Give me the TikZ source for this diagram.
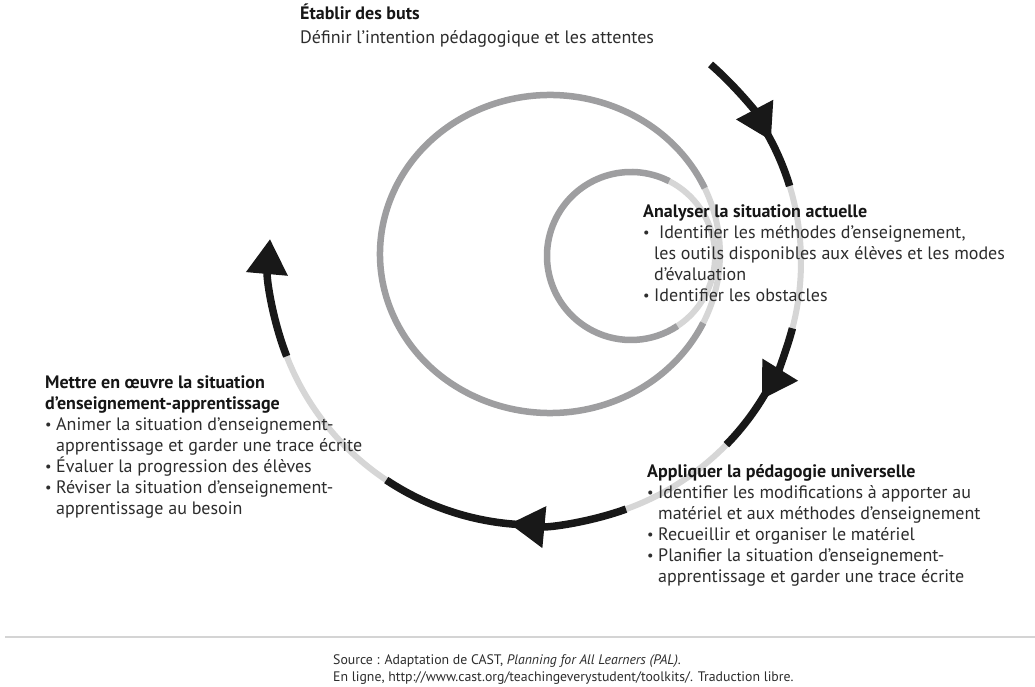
\documentclass[tikz,border=0pt]{standalone}
\usepackage{fontspec}
\setmainfont{PT Sans}
\usetikzlibrary{arrows.meta}

\definecolor{ringdark}{RGB}{158,158,160}
\definecolor{ringlight}{RGB}{214,214,214}
\definecolor{flowblack}{RGB}{24,24,24}
\definecolor{bodytext}{RGB}{45,45,45}
\definecolor{headtext}{RGB}{22,22,22}
\definecolor{rulegray}{RGB}{212,212,212}

% bullet and hanging indent for the step lists
\newcommand{\bul}{\makebox[11pt][l]{\raisebox{1pt}{\scalebox{0.8}{•}}}}
\newcommand{\hang}{\hspace*{11pt}}
\newcommand{\head}[1]{{\bfseries\color{headtext}#1}}
\newcommand{\stepbox}[1]{\parbox[t]{500pt}{\raggedright\leavevmode #1}}

\tikzset{
  darkring/.style={draw=ringdark, line width=6.5pt},
  lightring/.style={draw=ringlight, line width=6pt},
  flow/.style={draw=flowblack, line width=7.5pt},
  flowhead/.style={flow, -{Triangle[length=35pt,width=40pt]}},
  block/.style={anchor=base west, inner sep=0pt, text=bodytext,
                font=\fontsize{18}{21}\selectfont},
  credit/.style={anchor=base west, inner sep=0pt, text=bodytext,
                font=\fontsize{13.8}{17}\selectfont},
}

\begin{document}
\begin{tikzpicture}[x=1pt,y=1pt]
\useasboundingbox (0,0) rectangle (1035,686);
\fill[white] (0,0) rectangle (1035,686);

% centres of the three turns of the spiral
\coordinate (oc) at (535,424);
\coordinate (mc) at (550,432);
\coordinate (ic) at (631,430);

% inner turn
\draw[lightring] ([shift={(ic)}]-60:84) arc[start angle=-60, end angle=66, radius=84];
\draw[darkring]  ([shift={(ic)}]63:84) arc[start angle=63, end angle=303.5, radius=84];

% middle turn
\draw[lightring] ([shift={(mc)}]-30:170 and 159) arc[start angle=-30, end angle=28, x radius=170, y radius=159];
\draw[darkring]  ([shift={(mc)}]24.5:170 and 159) arc[start angle=24.5, end angle=334.3, x radius=170, y radius=159];

% outer turn: light gaps
\draw[lightring] ([shift={(oc)}]16.8:266 and 263) arc[start angle=16.8, end angle=-14.6, x radius=266, y radius=263];
\draw[lightring] ([shift={(oc)}]-44:266 and 263) arc[start angle=-44, end angle=-70, x radius=266, y radius=263];
\draw[lightring] ([shift={(oc)}]-124:266 and 263) arc[start angle=-124, end angle=-159, x radius=266, y radius=263];

% outer turn: black arrows
\draw[flow] ([shift={(oc)}]33:266 and 263) arc[start angle=33, end angle=16.8, x radius=266, y radius=263];
\draw[flowhead] ([shift={(oc)}]48.7:266 and 263) arc[start angle=48.7, end angle=27.5, x radius=266, y radius=263];

\draw[flow] ([shift={(oc)}]-24:266 and 263) arc[start angle=-24, end angle=-44, x radius=266, y radius=263];
\draw[flowhead] ([shift={(oc)}]-14.6:266 and 263) arc[start angle=-14.6, end angle=-31.5, x radius=266, y radius=263];

\draw[flow] ([shift={(oc)}]-88:266 and 263) arc[start angle=-88, end angle=-124, x radius=266, y radius=263];
\draw[flowhead] ([shift={(oc)}]-70:266 and 263) arc[start angle=-70, end angle=-95.5, x radius=266, y radius=263];

\draw[flowhead] ([shift={(oc)}]-159:266 and 263) arc[start angle=-159, end angle=-185, x radius=266, y radius=263];

% step texts
\node[block] (goals) at (300,666) {\stepbox{%
  \head{Établir des buts}\\[3pt]
  Définir l’intention pédagogique et les attentes}};

\node[block] (analyse) at (643,468) {\stepbox{%
  \head{Analyser la situation actuelle}\\
  \bul\ Identifier les méthodes d’enseignement,\\
  \hang les outils disponibles aux élèves et les modes\\
  \hang d’évaluation\\
  \bul Identifier les obstacles}};

\node[block] (apply) at (647,209) {\stepbox{%
  \head{Appliquer la pédagogie universelle}\\
  \bul Identifier les modifications à apporter au\\
  \hang matériel et aux méthodes d’enseignement\\
  \bul Recueillir et organiser le matériel\\
  \bul Planifier la situation d’enseignement-\\
  \hang apprentissage et garder une trace écrite}};

\node[block] (implement) at (45,298) {\stepbox{%
  \head{Mettre en œuvre la situation}\\
  \head{d’enseignement-apprentissage}\\
  \bul Animer la situation d’enseignement-\\
  \hang apprentissage et garder une trace écrite\\
  \bul Évaluer la progression des élèves\\
  \bul Réviser la situation d’enseignement-\\
  \hang apprentissage au besoin}};

% source line
\draw[rulegray, line width=2.5pt] (5,49) -- (1035,49);
\node[credit] (source) at (333,22) {\stepbox{%
  Source : Adaptation de CAST, \textit{Planning for All Learners (PAL)}.\\
  En ligne, http://www.cast.org/teachingeverystudent/toolkits/. Traduction libre.}};
\end{tikzpicture}
\end{document}
